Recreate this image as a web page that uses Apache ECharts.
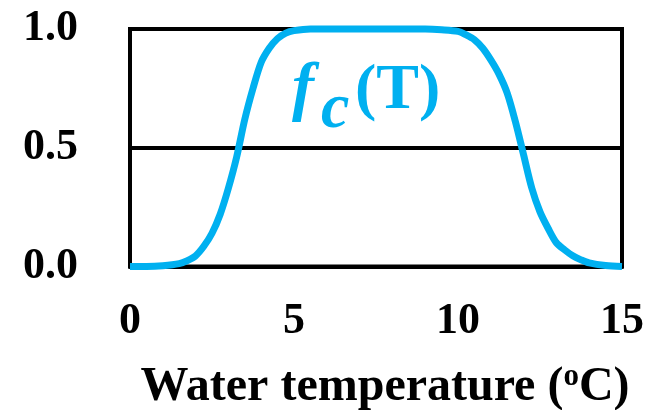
<!DOCTYPE html>
<html>
<head>
<meta charset="utf-8">
<script src="https://cdn.jsdelivr.net/npm/echarts@6/dist/echarts.min.js"></script>
<style>html,body{margin:0;padding:0;background:#fff}#c{width:648px;height:410px}</style>
</head>
<body>
<div id="c"></div>
<script>
const temps = [0,0.5,1,1.5,1.75,2,2.25,2.5,2.75,3,3.25,3.5,3.75,4,4.25,4.5,4.75,5,5.5,6,7,8,9,9.5,10,10.25,10.5,10.75,11,11.25,11.5,11.75,12,12.25,12.5,12.75,13,13.25,13.5,13.75,14,14.5,15];
const fcValues = [0,0,0.003,0.012,0.025,0.045,0.085,0.14,0.22,0.33,0.46,0.62,0.75,0.86,0.92,0.96,0.983,0.993,1,1,1,1,1,0.997,0.99,0.975,0.955,0.92,0.87,0.81,0.73,0.61,0.47,0.33,0.23,0.16,0.10,0.07,0.045,0.028,0.015,0.004,0];
const xTicks = [0,5,10,15];
const yTicks = ['0.0','0.5','1.0'];

const serif = 'Liberation Serif';
const cyan = '#00B0F0';
const chart = echarts.init(document.getElementById('c'), null, {renderer:'canvas'});
chart.setOption({
  animation:false,
  grid:{left:130,right:26,top:29,bottom:143.5,outerBoundsMode:'none',containLabel:false,show:true,borderColor:'#000',borderWidth:4,backgroundColor:'transparent'},
  xAxis:{type:'value',min:xTicks[0],max:xTicks[xTicks.length-1],interval:5,
    axisLine:{show:true,lineStyle:{color:'#000',width:4}},
    axisTick:{show:false},splitLine:{show:false},
    axisLabel:{margin:33,fontFamily:serif,fontWeight:'bold',fontSize:44,color:'#000'},
    name:'{n|Water temperature (}{s|o}{n|C)}',nameLocation:'middle',nameGap:95,
    nameTextStyle:{padding:[0,0,0,18],rich:{
      n:{fontFamily:serif,fontWeight:'bold',fontSize:48,color:'#000'},
      s:{fontFamily:serif,fontWeight:'bold',fontSize:31,color:'#000',padding:[0,0,22,0]}
    }}},
  yAxis:{type:'value',min:0,max:1,interval:0.5,
    axisLine:{show:true,lineStyle:{color:'#000',width:4}},
    axisTick:{show:false},
    splitLine:{show:true,lineStyle:{color:'#000',width:4}},
    axisLabel:{margin:52,fontFamily:serif,fontWeight:'bold',fontSize:44,color:'#000',
      formatter:function(v){return yTicks[Math.round(v*2)];}}},
  series:[{type:'line',data:temps.map((t,i)=>[t,fcValues[i]]),smooth:0.3,
    showSymbol:false,clip:false,lineStyle:{color:cyan,width:7,cap:'butt'}}],
  graphic:[
    {type:'text',x:292,y:91,style:{text:'f',fontFamily:serif,fontStyle:'italic',fontWeight:'bold',fontSize:66,fill:cyan,verticalAlign:'middle',align:'left'}},
    {type:'text',x:321,y:110,style:{text:'c',fontFamily:serif,fontStyle:'italic',fontWeight:'bold',fontSize:64,fill:cyan,verticalAlign:'middle',align:'left'}},
    {type:'text',x:355,y:91,style:{text:'(T)',fontFamily:serif,fontWeight:'bold',fontSize:64,fill:cyan,verticalAlign:'middle',align:'left'}}
  ]
});
</script>
</body>
</html>
